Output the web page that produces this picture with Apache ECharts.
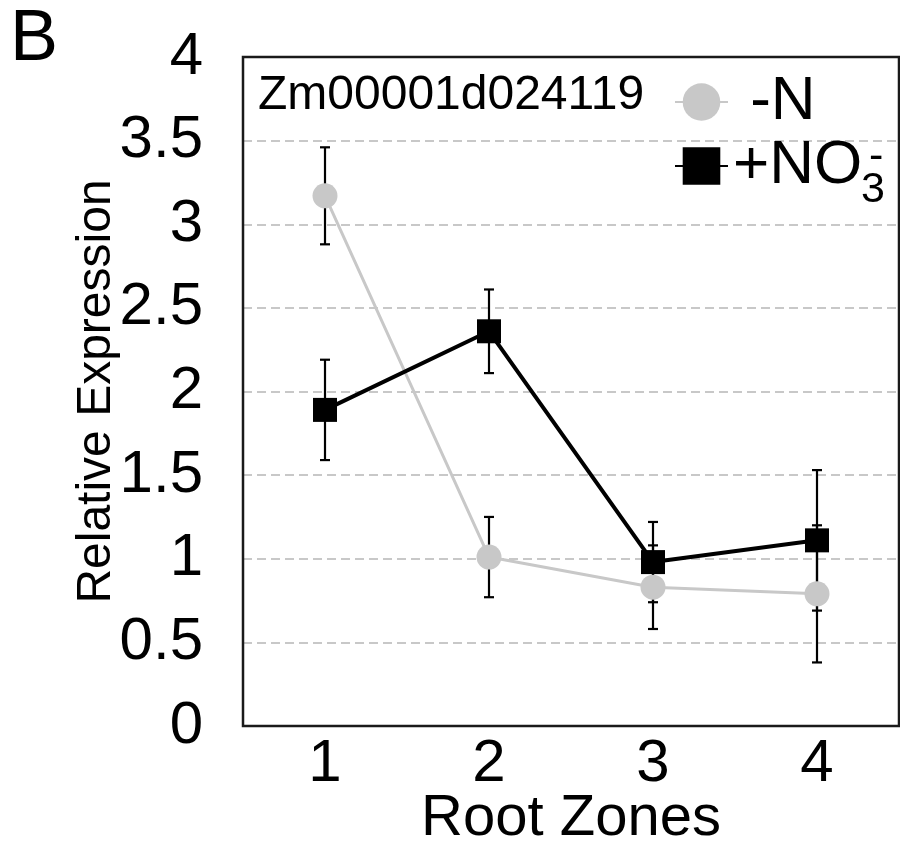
<!DOCTYPE html>
<html>
<head>
<meta charset="utf-8">
<script src="https://cdn.jsdelivr.net/npm/echarts@6/dist/echarts.min.js"></script>
<style>
html,body{margin:0;padding:0;background:#fff;}
#c{width:900px;height:846px;}
</style>
</head>
<body>
<div id="c"></div>
<script>
// ---- data ----
const zones = ['1', '2', '3', '4'];
const yTicks = [0, 0.5, 1, 1.5, 2, 2.5, 3, 3.5, 4];
const minusN = [3.17, 1.01, 0.83, 0.79];
const minusNErr = [0.29, 0.24, 0.25, 0.41];
const plusNO3 = [1.89, 2.36, 0.98, 1.11];
const plusNO3Err = [0.30, 0.25, 0.24, 0.42];
const geneName = 'Zm00001d024119';

const FONT = 'Liberation Sans, Arial, sans-serif';

function errData(mean, err) {
  return mean.map((m, i) => [i, m - err[i], m + err[i]]);
}

function errRender(params, api) {
  const x = api.value(0);
  const lo = api.coord([x, api.value(1)]);
  const hi = api.coord([x, api.value(2)]);
  const cap = 5;
  const st = { stroke: '#000', lineWidth: 2.2 };
  return {
    type: 'group',
    children: [
      { type: 'line', shape: { x1: hi[0], y1: hi[1], x2: lo[0], y2: lo[1] }, style: st },
      { type: 'line', shape: { x1: hi[0] - cap, y1: hi[1], x2: hi[0] + cap, y2: hi[1] }, style: st },
      { type: 'line', shape: { x1: lo[0] - cap, y1: lo[1], x2: lo[0] + cap, y2: lo[1] }, style: st }
    ]
  };
}

const chart = echarts.init(document.getElementById('c'), null, { renderer: 'canvas' });
chart.setOption({
  backgroundColor: '#fff',
  animation: false,
  textStyle: { fontFamily: FONT },
  title: [
    { text: 'B', left: 10, top: 4, padding: 0, textStyle: { fontFamily: FONT, fontSize: 72, fontWeight: 'normal', color: '#000' } },
    { text: geneName, left: 253, top: 67, textStyle: { fontFamily: FONT, fontSize: 48, fontWeight: 'normal', color: '#000' } }
  ],
  legend: {
    orient: 'vertical',
    left: 669,
    top: 66,
    itemWidth: 53,
    itemHeight: 47,
    itemGap: 2,
    data: ['-N', '+NO3-'],
    formatter: function (name) { return name === '-N' ? ' -N' : '+NO'; },
    textStyle: { fontFamily: FONT, fontSize: 62, color: '#000' }
  },
  graphic: [
    { type: 'text', left: 861, top: 169, z: 10, style: { text: '3', fontFamily: FONT, fontSize: 43, fill: '#000' } },
    { type: 'text', left: 869, top: 136, z: 10, style: { text: '-', fontFamily: FONT, fontSize: 43, fill: '#000' } }
  ],
  grid: {
    left: 243, top: 57, right: 1, bottom: 120,
    outerBoundsMode: 'none',
    containLabel: false,
    z: 10,
    show: true, borderColor: '#1a1a1a', borderWidth: 2.5, backgroundColor: 'transparent'
  },
  xAxis: {
    type: 'category',
    data: zones,
    boundaryGap: true,
    name: 'Root Zones',
    nameLocation: 'middle',
    nameGap: 64,
    nameMoveOverlap: false,
    nameTextStyle: { fontFamily: FONT, fontSize: 58, color: '#000' },
    axisLine: { show: false },
    axisTick: { show: false },
    axisLabel: { fontFamily: FONT, fontSize: 60, color: '#000', margin: 8 },
    splitLine: { show: false }
  },
  yAxis: {
    type: 'value',
    min: 0, max: 4, interval: 0.5,
    name: 'Relative Expression',
    nameLocation: 'middle',
    nameRotate: 90,
    nameGap: 122,
    nameMoveOverlap: false,
    nameTextStyle: { fontFamily: FONT, fontSize: 48, color: '#000' },
    axisLine: { show: false },
    axisTick: { show: false },
    axisLabel: {
      fontFamily: FONT, fontSize: 60, color: '#000', margin: 40,
      formatter: function (v) { return yTicks.indexOf(v) >= 0 ? String(v) : ''; }
    },
    splitLine: { show: true, lineStyle: { color: '#c8c8c8', width: 2, type: [9, 5] } }
  },
  series: [
    {
      name: 'errN', type: 'custom', renderItem: errRender, data: errData(minusN, minusNErr), z: 1, silent: true
    },
    {
      name: 'errNO3', type: 'custom', renderItem: errRender, data: errData(plusNO3, plusNO3Err), z: 1, silent: true
    },
    {
      name: '-N', type: 'line', data: minusN, z: 3,
      symbol: 'circle', symbolSize: 25,
      lineStyle: { color: '#c8c8c8', width: 3 },
      itemStyle: { color: '#c8c8c8' }
    },
    {
      name: '+NO3-', type: 'line', data: plusNO3, z: 4,
      symbol: 'rect', symbolSize: 24,
      lineStyle: { color: '#000', width: 4 },
      itemStyle: { color: '#000' }
    }
  ]
});
</script>
</body>
</html>
